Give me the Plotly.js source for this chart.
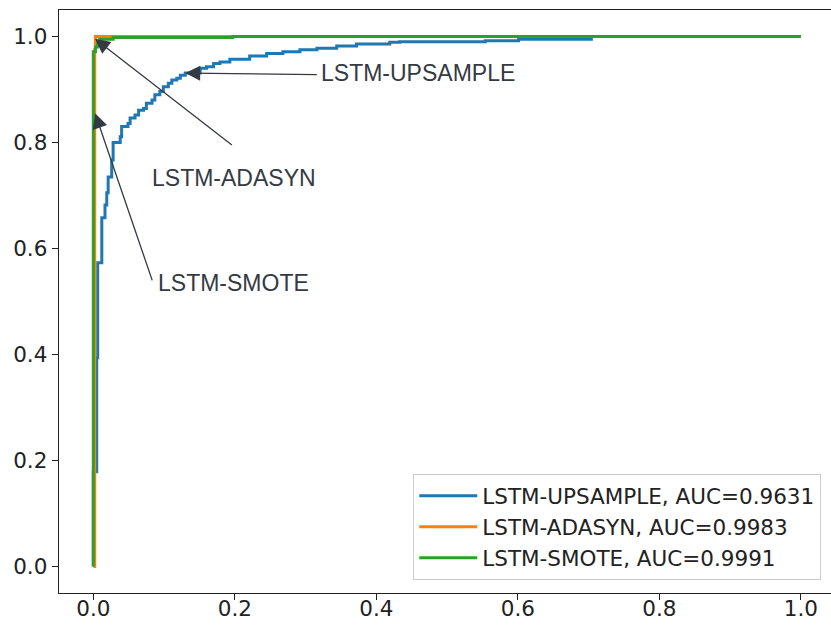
<!DOCTYPE html>
<html>
<head>
<meta charset="utf-8">
<script src="https://cdn.plot.ly/plotly-3.0.1.min.js"></script>
<style>
  html, body { margin: 0; padding: 0; background: #ffffff; }
  #roc { width: 831px; height: 628px; }
</style>
</head>
<body>
<div id="roc"></div>
<script>
// ROC curves (false positive rate vs true positive rate), one per resampling strategy.
// Points are the upper-left corners of each staircase; 'hv' steps draw the stairs.
const upsampleFpr = [0, 0, 0.0048, 0.0062, 0.012, 0.0165, 0.019, 0.021, 0.026, 0.028, 0.038, 0.040,
  0.049, 0.052, 0.059, 0.064, 0.071, 0.075, 0.083, 0.087, 0.094, 0.099, 0.106, 0.111, 0.118, 0.123,
  0.130, 0.151, 0.160, 0.170, 0.179, 0.193, 0.221, 0.245, 0.268, 0.292, 0.316, 0.344, 0.372, 0.419,
  0.433, 0.554, 0.601, 0.704, 1.0];
const upsampleTpr = [0, 0.179, 0.394, 0.573, 0.658, 0.682, 0.705, 0.735, 0.767, 0.800, 0.811, 0.830,
  0.836, 0.846, 0.852, 0.861, 0.864, 0.874, 0.880, 0.890, 0.896, 0.905, 0.912, 0.918, 0.921, 0.927,
  0.931, 0.940, 0.943, 0.949, 0.952, 0.957, 0.963, 0.968, 0.971, 0.975, 0.978, 0.982, 0.986, 0.989,
  0.990, 0.992, 0.995, 1.0, 1.0];

const adasynFpr = [0, 0.002, 0.003, 1.0];
const adasynTpr = [0, 0.975, 1.0, 1.0];

const smoteFpr = [0, 0, 0.003, 0.006, 0.009, 0.028, 0.197, 1.0];
const smoteTpr = [0, 0.971, 0.980, 0.990, 0.995, 0.998, 1.0, 1.0];

const modelNames = ['LSTM-UPSAMPLE', 'LSTM-ADASYN', 'LSTM-SMOTE'];
const aucValues = ['0.9631', '0.9983', '0.9991'];
const lineColors = ['#1f77b4', '#ff7f0e', '#2ca02c'];

const tickValues = [0, 0.2, 0.4, 0.6, 0.8, 1.0];
const tickLabels = ['0.0', '0.2', '0.4', '0.6', '0.8', '1.0'];

const curves = [
  [upsampleFpr, upsampleTpr],
  [adasynFpr, adasynTpr],
  [smoteFpr, smoteTpr]
];

const traces = curves.map(function (c, i) {
  return {
    type: 'scatter',
    mode: 'lines',
    x: c[0],
    y: c[1],
    name: modelNames[i] + ', AUC=' + aucValues[i],
    line: { color: lineColors[i], width: 3, shape: 'hv' },
    legendgroup: 'g' + i,
    hoverinfo: 'skip'
  };
});

const inkColor = '#222222';
const noteColor = '#343a44';
const noteFont = { family: 'Liberation Sans, Arial, sans-serif', size: 23, color: noteColor };

// Arrow pointing from a label position (ax, ay) to a spot on a curve (x, y).
function arrow(x, y, ax, ay) {
  return {
    x: x, y: y, xref: 'x', yref: 'y',
    ax: ax, ay: ay, axref: 'x', ayref: 'y',
    text: '', showarrow: true,
    arrowhead: 2, arrowsize: 2.3, arrowwidth: 1.3,
    arrowcolor: noteColor, standoff: 0, startstandoff: 0
  };
}

function label(text, x, y, xanchor) {
  return {
    x: x, y: y, xref: 'x', yref: 'y',
    text: text, showarrow: false,
    xanchor: xanchor, yanchor: 'middle',
    font: noteFont
  };
}

const annotations = [
  arrow(0.130, 0.931, 0.318, 0.928),
  label(modelNames[0], 0.319, 0.932, 'left'),
  arrow(0.0024, 0.9957, 0.198, 0.793),
  label(modelNames[1], 0.199, 0.733, 'center'),
  arrow(0.0025, 0.855, 0.084, 0.537),
  label(modelNames[2], 0.0885, 0.535, 'left')
];

const tickFont = { family: 'DejaVu Sans, sans-serif', size: 21.5, color: inkColor };

const layout = {
  width: 831,
  height: 628,
  margin: { l: 59, r: 0, t: 10, b: 35, pad: 0 },
  paper_bgcolor: '#ffffff',
  plot_bgcolor: '#ffffff',
  showlegend: true,
  xaxis: {
    range: [-0.0485, 1.0427],
    tickvals: tickValues,
    ticktext: tickLabels,
    ticks: 'outside', ticklen: 6, tickwidth: 1.3, tickcolor: inkColor,
    ticklabelstandoff: -10,
    showline: true, linecolor: inkColor, linewidth: 1.3, mirror: true,
    showgrid: false, zeroline: false,
    tickfont: tickFont
  },
  yaxis: {
    range: [-0.05, 1.05],
    tickvals: tickValues,
    ticktext: tickLabels,
    ticks: 'outside', ticklen: 6, tickwidth: 1.3, tickcolor: inkColor,
    showline: true, linecolor: inkColor, linewidth: 1.3, mirror: false,
    showgrid: false, zeroline: false,
    tickfont: tickFont
  },
  legend: {
    x: 0.4585, y: 0.0223, xanchor: 'left', yanchor: 'bottom',
    bgcolor: 'rgba(255,255,255,0.85)',
    bordercolor: '#cccccc', borderwidth: 1.3,
    font: { family: 'DejaVu Sans, sans-serif', size: 21.5, color: inkColor },
    traceorder: 'normal',
    itemwidth: 58,
    tracegroupgap: 6
  },
  annotations: annotations
};

Plotly.newPlot('roc', traces, layout, { staticPlot: true, displayModeBar: false });
</script>
</body>
</html>
